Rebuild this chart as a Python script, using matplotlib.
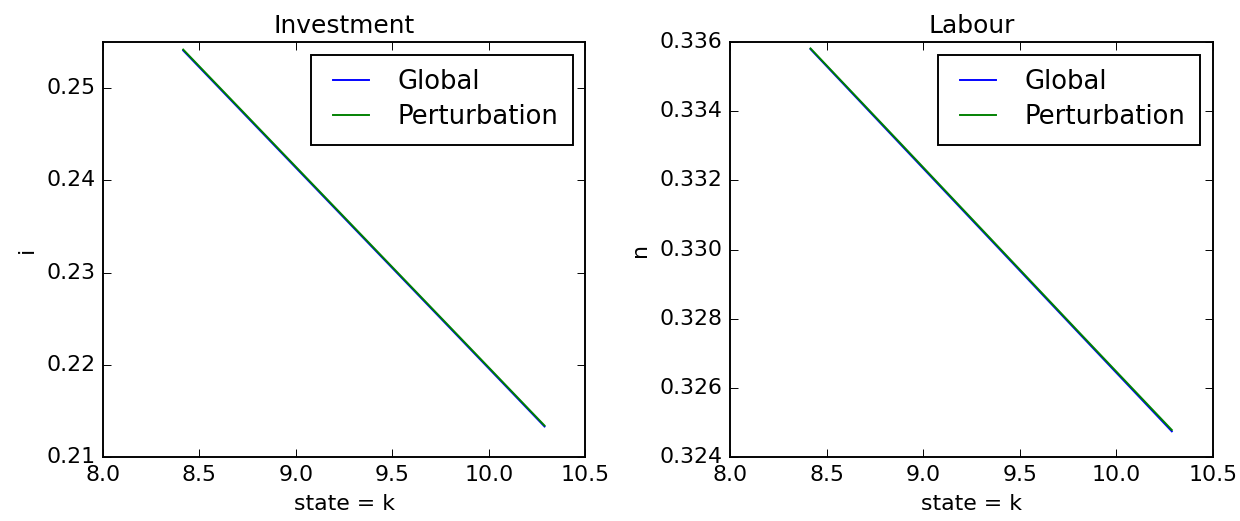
import matplotlib
matplotlib.use("Agg")
import matplotlib.pyplot as plt

plt.style.use('classic')
plt.rcParams['font.size'] = 11.5

# values
k = [8.416, 8.9, 9.35, 9.8, 10.288]
inv_global = [0.25410, 0.24355, 0.23375, 0.22395, 0.21330]
inv_pert = [0.25420, 0.24365, 0.23385, 0.22405, 0.21340]
lab_global = [0.33580, 0.33294, 0.33028, 0.32762, 0.32474]
lab_pert = [0.33582, 0.33297, 0.33031, 0.32765, 0.32478]

dpi = 138
fig, (ax1, ax2) = plt.subplots(1, 2, figsize=(1240/dpi, 521/dpi), dpi=dpi)
fig.patch.set_facecolor('white')
fig.subplots_adjust(left=0.083, right=0.978, bottom=0.123, top=0.919, wspace=0.3)

ax1.plot(k, inv_global, 'b', label='Global')
ax1.plot(k, inv_pert, 'g', label='Perturbation')
ax1.set_xlim(8.0, 10.5)
ax1.set_ylim(0.21, 0.255)
ax1.set_title('Investment', fontsize=13)
ax1.set_xlabel('state = k')
ax1.set_ylabel('i')
ax1.legend(fontsize=13.5, borderpad=0.55, labelspacing=0.35)

ax2.plot(k, lab_global, 'b', label='Global')
ax2.plot(k, lab_pert, 'g', label='Perturbation')
ax2.set_xlim(8.0, 10.5)
ax2.set_ylim(0.324, 0.336)
ax2.set_title('Labour', fontsize=13)
ax2.set_xlabel('state = k')
ax2.set_ylabel('n')
ax2.legend(fontsize=13.5, borderpad=0.55, labelspacing=0.35)

fig.savefig('out.png', dpi=dpi, facecolor='white')
